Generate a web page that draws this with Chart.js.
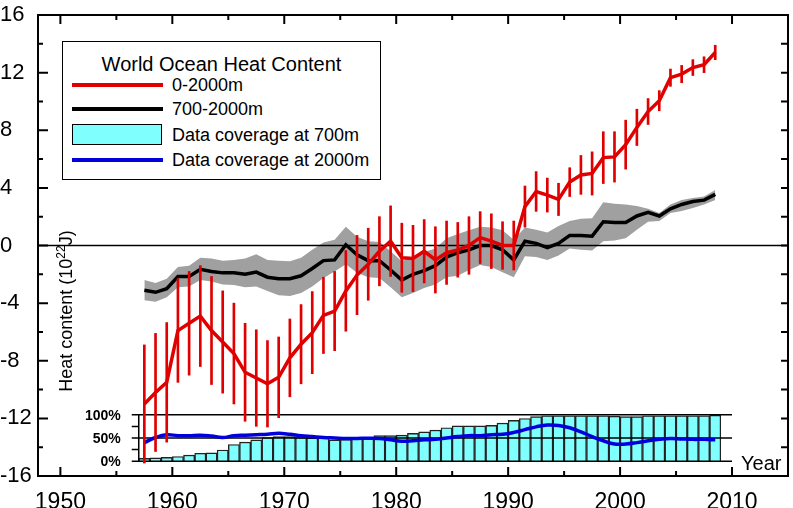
<!DOCTYPE html>
<html>
<head>
<meta charset="utf-8">
<script src="https://cdn.jsdelivr.net/npm/chart.js@4.4.1/dist/chart.umd.min.js"></script>
<style>
html, body { margin: 0; padding: 0; background: #fff; }
#wrap { position: relative; width: 793px; height: 508px; font-family: "Liberation Sans", Arial, sans-serif; color: #000; }
#chart { position: absolute; left: 0; top: 0; }
#legend { position: absolute; left: 62px; top: 41px; width: 319px; height: 139px; box-sizing: border-box; border: 1px solid #000; background: #fff; }
#legend .ttl { position: absolute; left: 0; width: 100%; top: 12px; text-align: center; font-size: 20px; line-height: 20px; white-space: nowrap; }
#legend .txt { position: absolute; left: 109px; font-size: 18px; line-height: 18px; white-space: nowrap; }
#legend .ln { position: absolute; left: 9px; width: 91px; height: 3.5px; }
#legend .box { position: absolute; left: 9px; width: 90px; height: 21px; box-sizing: border-box; border: 1.5px solid #000; background: #80ffff; }
</style>
</head>
<body>
<div id="wrap">
  <canvas id="chart" width="793" height="508"></canvas>
  <div id="legend">
    <div class="ttl">World Ocean Heat Content</div>
    <div class="ln" style="top:41px;background:#e00000"></div>
    <div class="txt" style="top:34px">0-2000m</div>
    <div class="ln" style="top:65px;background:#000"></div>
    <div class="txt" style="top:58px">700-2000m</div>
    <div class="box" style="top:82px"></div>
    <div class="txt" style="top:84px">Data coverage at 700m</div>
    <div class="ln" style="top:116px;background:#0000dd"></div>
    <div class="txt" style="top:109px">Data coverage at 2000m</div>
  </div>
</div>
<script>
const $ = id => document.getElementById(id);

// years of the yearly estimates (points sit mid-year)
const years = [1957, 1958, 1959, 1960, 1961, 1962, 1963, 1964, 1965, 1966,
  1967, 1968, 1969, 1970, 1971, 1972, 1973, 1974, 1975, 1976,
  1977, 1978, 1979, 1980, 1981, 1982, 1983, 1984, 1985, 1986,
  1987, 1988, 1989, 1990, 1991, 1992, 1993, 1994, 1995, 1996,
  1997, 1998, 1999, 2000, 2001, 2002, 2003, 2004, 2005, 2006,
  2007, 2008];

// 0-2000m heat content (10^22 J) and its error half-width
const ohc0to2000 = [-11.0, -10.2, -9.5, -5.9, -5.4, -4.9, -5.9, -6.7, -7.5, -8.8,
  -9.2, -9.6, -9.15, -7.8, -6.85, -6.05, -4.85, -4.55, -3.15, -2.05,
  -1.3, -0.4, 0.3, -0.85, -0.9, -0.4, -1.0, -0.5, -0.3, 0.0,
  0.55, 0.3, 0.0, 0.0, 2.7, 3.75, 3.5, 3.2, 4.4, 4.9,
  5.0, 6.1, 6.15, 7.0, 8.2, 9.3, 10.05, 11.65, 11.9, 12.35,
  12.55, 13.4];
const ohc0to2000Err = [4.1, 4.1, 4.15, 3.6, 3.6, 3.5, 3.75, 3.55, 3.5, 3.4,
  3.35, 3.0, 2.8, 2.7, 2.75, 2.85, 2.65, 2.75, 2.8, 2.75,
  2.5, 2.4, 2.45, 2.4, 2.3, 2.2, 2.3, 2.2, 1.9, 2.0,
  1.8, 1.9, 1.65, 1.7, 1.43, 1.38, 1.18, 1.12, 1.0, 1.35,
  1.5, 1.8, 1.75, 1.7, 1.26, 0.9, 0.7, 0.6, 0.6, 0.55,
  0.55, 0.5];

// 700-2000m heat content and its uncertainty band
const ohc700to2000 = [-3.1, -3.25, -3.0, -2.15, -2.15, -1.65, -1.8, -1.9, -1.9, -2.0,
  -1.85, -2.2, -2.3, -2.3, -2.1, -1.6, -1.05, -1.0, 0.05, -0.65,
  -1.05, -1.05, -1.7, -2.4, -2.0, -1.75, -1.4, -0.8, -0.5, -0.3,
  0.0, 0.0, -0.3, -1.0, 0.3, 0.15, -0.15, 0.15, 0.7, 0.7,
  0.65, 1.65, 1.6, 1.6, 2.05, 2.3, 2.05, 2.55, 2.85, 3.05,
  3.15, 3.55];
const bandHigh = [-2.4, -2.6, -2.3, -1.5, -1.4, -0.85, -0.9, -1.05, -1.0, -0.9,
  -0.6, -1.0, -1.05, -1.1, -0.85, -0.3, 0.2, 0.4, 1.3, 0.6,
  0.3, 0.25, -0.4, -1.1, -0.75, -0.45, -0.2, 0.5, 0.8, 1.05,
  1.3, 1.25, 1.05, 0.4, 1.25, 1.1, 0.9, 1.35, 1.7, 1.85,
  1.9, 3.0, 2.9, 2.85, 2.75, 2.55, 2.25, 2.85, 3.15, 3.3,
  3.4, 3.85];
const bandLow = [-3.8, -3.9, -3.6, -2.9, -2.85, -2.4, -2.5, -2.7, -2.75, -2.9,
  -2.85, -3.15, -3.45, -3.5, -3.3, -2.85, -2.25, -1.8, -1.3, -1.9,
  -2.2, -2.25, -2.9, -3.6, -3.3, -2.95, -2.7, -2.2, -2.1, -1.7,
  -1.35, -1.5, -1.85, -2.2, -0.75, -0.8, -1.0, -0.7, -0.2, -0.3,
  -0.35, 0.3, 0.35, 0.5, 1.1, 1.65, 1.7, 2.25, 2.4, 2.6,
  2.85, 3.15];

// data coverage (%)
const coverage700 = [6, 7, 8, 10, 13, 17, 18, 24, 36, 41,
  46, 51, 53, 53, 51, 50, 50, 46, 47, 48,
  48, 55, 55, 56, 60, 63, 67, 72, 76, 76,
  76, 77, 82, 88, 92, 96, 98, 98, 98, 98,
  98, 98, 97, 96, 96, 98, 98, 98, 98, 98,
  98, 99];
const coverage2000 = [40, 51, 57, 55, 55, 56, 54, 51, 55, 56,
  57, 58, 60, 58, 55, 53, 51, 50, 49, 49,
  49.5, 49, 46, 43, 44, 46, 47, 50, 53, 55,
  55, 57, 58, 62, 68, 74, 78, 77, 72, 63,
  53, 44, 37, 37, 40, 44, 47, 49, 48, 47,
  47, 46];

const xTicks = [1950, 1960, 1970, 1980, 1990, 2000, 2010];
const yTicks = [-16, -12, -8, -4, 0, 4, 8, 12, 16];
const insetTicks = [0, 25, 50, 75, 100];
const insetLabels = [100, 50, 0];

const RED = '#e00000', BLUE = '#0000dd', GRAY = '#a0a0a0', CYAN = '#80ffff';
const FONT = '"Liberation Sans", Arial, sans-serif';
Chart.defaults.font.family = FONT;
Chart.defaults.color = '#000';

const pts = arr => years.map((yr, i) => ({ x: yr + 0.5, y: arr[i] }));

const frame = {
  id: 'frame',
  beforeDatasetDraw(chart, args) {
    const ds = chart.data.datasets[args.index];
    const { ctx, chartArea: a } = chart;
    const x = chart.scales.x, y = chart.scales.y, y2 = chart.scales.y2;
    ctx.save();
    ctx.strokeStyle = '#000';
    if (ds.label === 'Data coverage at 2000m') {
      const x0 = x.getPixelForValue(1957), x1 = x.getPixelForValue(2010);
      ctx.lineWidth = 1.5;
      ctx.beginPath();
      for (const v of [0, 50, 100]) {
        const py = y2.getPixelForValue(v);
        ctx.moveTo(x0, py); ctx.lineTo(x1, py);
      }
      ctx.moveTo(x0, y2.getPixelForValue(0)); ctx.lineTo(x0, y2.getPixelForValue(100));
      for (const v of insetTicks) {
        const py = y2.getPixelForValue(v);
        ctx.moveTo(x0, py); ctx.lineTo(x0 - 7, py);
      }
      ctx.stroke();
      ctx.fillStyle = '#000';
      ctx.font = 'bold 14px ' + FONT;
      ctx.textAlign = 'right';
      ctx.textBaseline = 'middle';
      for (const v of insetLabels) ctx.fillText(v + '%', x0 - 18, y2.getPixelForValue(v) + 1);
    }
    if (ds.label === '700-2000m') {
      const py = y.getPixelForValue(0);
      ctx.lineWidth = 1.5;
      ctx.beginPath();
      ctx.moveTo(a.left, py); ctx.lineTo(a.right, py);
      ctx.stroke();
    }
    ctx.restore();
  },
  afterDraw(chart) {
    const { ctx, chartArea: a } = chart;
    const x = chart.scales.x, y = chart.scales.y;
    ctx.save();
    ctx.strokeStyle = '#000';
    ctx.lineWidth = 2;
    ctx.strokeRect(a.left, a.top, a.width, a.height);
    ctx.beginPath();
    for (let yr = 1950; yr <= 2015; yr += 5) {
      const px = x.getPixelForValue(yr);
      const len = yr % 10 === 0 ? 9 : 5;
      ctx.moveTo(px, a.bottom); ctx.lineTo(px, a.bottom - len);
      ctx.moveTo(px, a.top); ctx.lineTo(px, a.top + len);
    }
    for (let v = -16; v <= 16; v += 2) {
      const py = y.getPixelForValue(v);
      const len = v % 4 === 0 ? 10 : 5;
      ctx.moveTo(a.left, py); ctx.lineTo(a.left + len, py);
      ctx.moveTo(a.right, py); ctx.lineTo(a.right - 7, py);
    }
    ctx.stroke();

    ctx.fillStyle = '#000';
    ctx.font = '20px ' + FONT;
    ctx.textAlign = 'left';
    ctx.textBaseline = 'alphabetic';
    ctx.fillText('Year', 741, 470);

    // rotated axis title with a real superscript exponent
    ctx.translate(66, 311);
    ctx.rotate(-Math.PI / 2);
    const parts = [['Heat content (10', '18px', 0], ['22', '12px', -7], ['J)', '18px', 0]];
    let total = 0;
    for (const p of parts) { ctx.font = p[1] + ' ' + FONT; total += ctx.measureText(p[0]).width; }
    let cx = -total / 2;
    ctx.textBaseline = 'alphabetic';
    for (const p of parts) {
      ctx.font = p[1] + ' ' + FONT;
      ctx.fillText(p[0], cx, 6 + p[2]);
      cx += ctx.measureText(p[0]).width;
    }
    ctx.restore();
  }
};

new Chart($('chart'), {
  type: 'line',
  data: {
    datasets: [
      { label: '0-2000m', data: pts(ohc0to2000), borderColor: RED, borderWidth: 3.5, pointRadius: 0, tension: 0, fill: false, order: 1 },
      { type: 'bar', label: 'error', grouped: false, barThickness: 2,
        data: years.map((yr, i) => ({ x: yr + 0.5, y: [ohc0to2000[i] - ohc0to2000Err[i], ohc0to2000[i] + ohc0to2000Err[i]] })),
        backgroundColor: RED, borderWidth: 0, order: 2 },
      { label: '700-2000m', data: pts(ohc700to2000), borderColor: '#000', borderWidth: 3.5, pointRadius: 0, tension: 0, fill: false, order: 3 },
      { label: 'band high', data: pts(bandHigh), borderWidth: 0, borderColor: GRAY, backgroundColor: GRAY, pointRadius: 0, tension: 0, fill: { target: 4 }, order: 4 },
      { label: 'band low', data: pts(bandLow), borderWidth: 0, borderColor: GRAY, pointRadius: 0, tension: 0, fill: false, order: 5 },
      { label: 'Data coverage at 2000m', yAxisID: 'y2', data: pts(coverage2000), borderColor: BLUE, borderWidth: 3.5, pointRadius: 0, tension: 0.4, fill: false, order: 6 },
      { type: 'bar', label: 'Data coverage at 700m', yAxisID: 'y2', grouped: false, barPercentage: 1, categoryPercentage: 1,
        data: pts(coverage700), backgroundColor: CYAN, borderColor: '#222', borderWidth: 1.4, order: 7 }
    ]
  },
  options: {
    responsive: false,
    animation: false,
    devicePixelRatio: 1,
    layout: { padding: { top: 12, right: 5, left: 0, bottom: 0 } },
    plugins: { legend: { display: false }, tooltip: { enabled: false } },
    scales: {
      x: {
        type: 'linear', min: 1948, max: 2015, offset: false,
        afterBuildTicks: s => { s.ticks = xTicks.map(v => ({ value: v })); },
        afterFit: s => { s.height = 32; },
        ticks: { font: { size: 23 }, color: '#000', padding: 5, maxRotation: 0, autoSkip: false, callback: v => String(v) },
        grid: { display: false }, border: { display: false }
      },
      y: {
        min: -16, max: 16,
        afterBuildTicks: s => { s.ticks = yTicks.map(v => ({ value: v })); },
        afterFit: s => { s.width = 38; },
        ticks: { font: { size: 22, lineHeight: 1 }, color: '#000', padding: 4, crossAlign: 'far',
          callback: v => String(v) },
        grid: { display: false }, border: { display: false }
      },
      y2: { display: false, min: -32, max: 962 }
    }
  },
  plugins: [frame]
});
</script>
</body>
</html>
